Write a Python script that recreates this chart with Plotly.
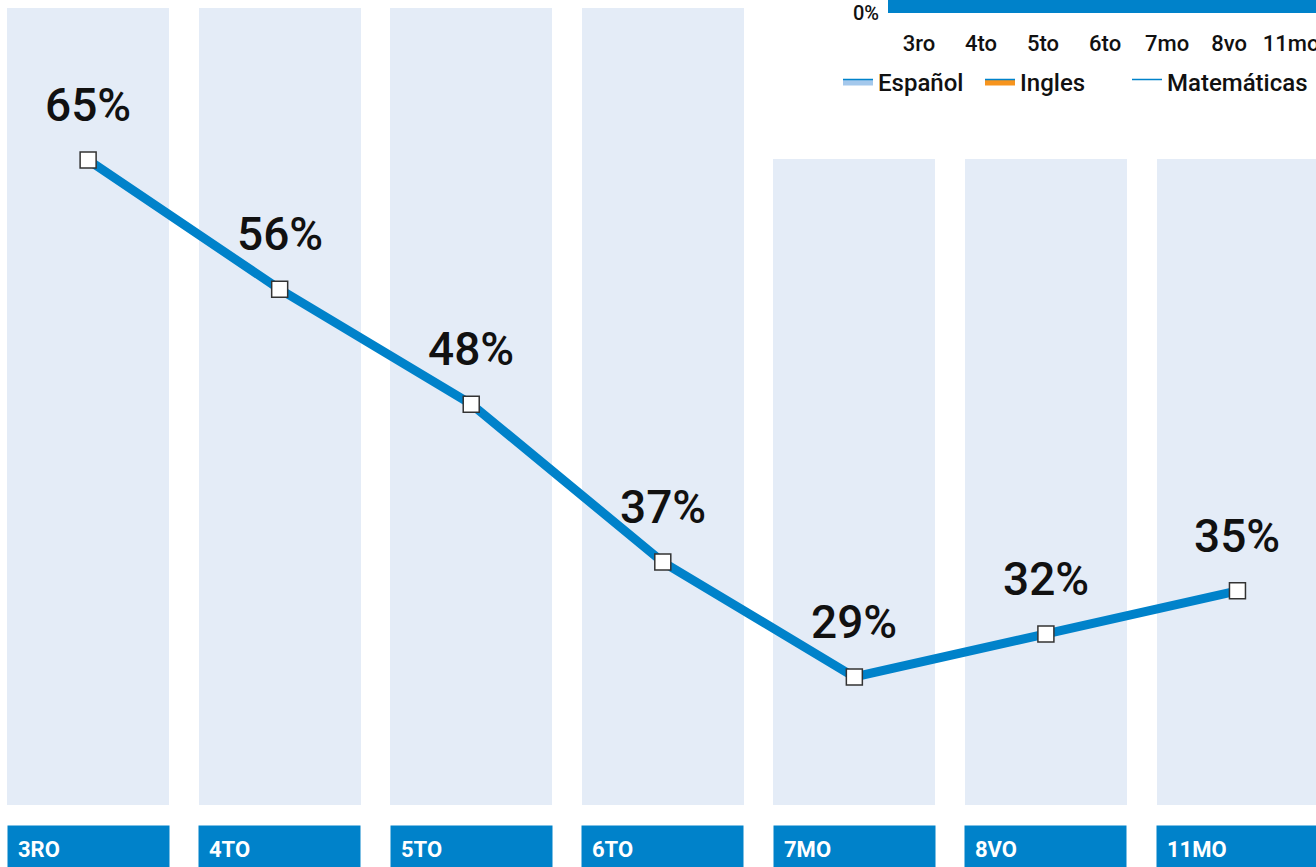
import plotly.graph_objects as go

# main chart data
grades = ["3RO", "4TO", "5TO", "6TO", "7MO", "8VO", "11MO"]
percent = [65, 56, 48, 37, 29, 32, 35]
percent_labels = ["65%", "56%", "48%", "37%", "29%", "32%", "35%"]
column_top = [75.6, 75.6, 75.6, 75.6, 65.1, 65.1, 65.1]
column_base = 20.1

# small inset chart (top right, cut off)
inset_grades = ["3ro", "4to", "5to", "6to", "7mo", "8vo", "11mo"]
inset_values = [100, 100, 100, 100, 100, 100, 100]
legend_names = ["Español", "Ingles", "Matemáticas"]

BLUE = "#0082ca"
PALE = "#e4ecf7"
FONT = "Roboto, Inter, sans-serif"

x = list(range(len(grades)))

fig = go.Figure()

fig.add_trace(go.Bar(
    x=x, y=[t - column_base for t in column_top], base=column_base,
    width=0.845, marker=dict(color=PALE, line=dict(width=0)),
    showlegend=False, hoverinfo="skip"))

fig.add_trace(go.Scatter(
    x=x, y=percent, mode="lines+markers",
    line=dict(color=BLUE, width=9),
    marker=dict(symbol="square", size=16, color="white",
                line=dict(color="#333333", width=1.5)),
    showlegend=False))

for i, v in enumerate(percent):
    fig.add_annotation(x=i, y=v, text=percent_labels[i], showarrow=False,
                       yanchor="bottom", yshift=26,
                       font=dict(family=FONT, size=46, color="#111111", weight=500))

for i, g in enumerate(grades):
    fig.add_annotation(x=i, y=1 - 825 / 867, yref="paper", text="<b>" + g + "</b>",
                       showarrow=False, xanchor="center", yanchor="top",
                       width=141, height=26, borderpad=10, align="left",
                       valign="middle", bgcolor=BLUE,
                       font=dict(family=FONT, size=22, color="white"))

# inset
fig.add_trace(go.Bar(
    x=inset_grades, y=inset_values, xaxis="x2", yaxis="y2",
    marker=dict(color=BLUE, line=dict(width=0)),
    showlegend=False, hoverinfo="skip"))
legend_fill = ["#a4c8ec", "#f7941d", "white"]
legend_ref = ["legend", "legend", "legend2"]
for name, col, lg in zip(legend_names, legend_fill, legend_ref):
    fig.add_trace(go.Scatter(
        x=[None], y=[None], name=name, xaxis="x2", yaxis="y2", legend=lg,
        mode="lines", fill="toself", fillcolor=col,
        line=dict(color=BLUE, width=1.5)))

legend_font = dict(family=FONT, size=24, color="#111111", weight=500)

fig.update_layout(
    width=1316, height=867,
    margin=dict(l=0, r=0, t=0, b=0, autoexpand=False),
    paper_bgcolor="white", plot_bgcolor="rgba(0,0,0,0)",
    barmode="overlay", bargap=0,
    xaxis=dict(range=[-0.46, 6.41], visible=False, domain=[0, 1]),
    yaxis=dict(range=[15.77, 76.14], visible=False, domain=[0, 1]),
    xaxis2=dict(domain=[888 / 1316, 1], anchor="y2", range=[-0.5, 6.4],
                showgrid=False, showline=False, ticks="", ticklabelstandoff=15,
                tickfont=dict(family=FONT, size=22, color="#111111", weight=500)),
    yaxis2=dict(domain=[1 - 13 / 867, 1], anchor="x2", range=[0, 10],
                tickvals=[0], ticktext=["0%"], showgrid=False, zeroline=False,
                ticks="", ticklabelstandoff=8,
                tickfont=dict(family=FONT, size=20, color="#111111", weight=500)),
    legend=dict(orientation="h", x=838 / 1316, y=1 - 82 / 867, yanchor="middle",
                xanchor="left", entrywidth=97, entrywidthmode="pixels",
                bgcolor="rgba(0,0,0,0)", traceorder="normal", font=legend_font),
    legend2=dict(orientation="h", x=1127 / 1316, y=1 - 82 / 867, yanchor="middle",
                 xanchor="left", bgcolor="rgba(0,0,0,0)", font=legend_font),
)

fig.write_html("out.html", post_script="document.body.style.margin='0';",
               config={"displayModeBar": False})
